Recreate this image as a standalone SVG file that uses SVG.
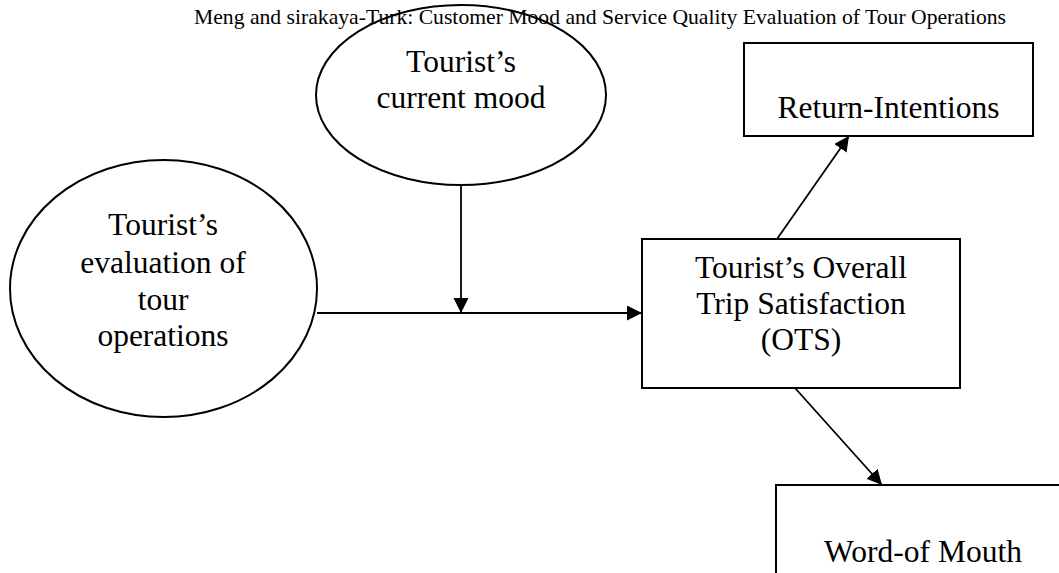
<svg xmlns="http://www.w3.org/2000/svg" width="1059" height="573" viewBox="0 0 1059 573">
  <style>
    .shape { fill: #ffffff; stroke: #000000; stroke-width: 2; }
    .lbl { font-family: "Liberation Serif", "Times New Roman", serif; font-size: 31.5px; fill: #000000; text-anchor: middle; }
    .title { font-family: "Liberation Serif", "Times New Roman", serif; font-size: 21px; fill: #000000; text-anchor: middle; }
    .conn { stroke: #000000; stroke-width: 1.8; fill: none; }
  </style>
  <defs>
    <marker id="arrow" markerUnits="userSpaceOnUse" markerWidth="16" markerHeight="16" refX="15" refY="7.5" orient="auto">
      <path d="M0,0 L15,7.5 L0,15 Z" fill="#000000"/>
    </marker>
  </defs>
  <rect width="1059" height="573" fill="#ffffff"/>

  <g id="node-mood">
    <ellipse class="shape" cx="461" cy="95" rx="145" ry="90"/>
    <text class="lbl" x="461" y="72">Tourist’s</text>
    <text class="lbl" x="461" y="108">current mood</text>
  </g>

  <g id="title">
    <text class="title" x="600" y="24" textLength="812" lengthAdjust="spacingAndGlyphs">Meng and sirakaya-Turk: Customer Mood and Service Quality Evaluation of Tour Operations</text>
  </g>

  <g id="node-evaluation">
    <ellipse class="shape" cx="163.5" cy="288.5" rx="153.5" ry="128.5"/>
    <text class="lbl" x="163" y="235">Tourist’s</text>
    <text class="lbl" x="163" y="273">evaluation of</text>
    <text class="lbl" x="163" y="310">tour</text>
    <text class="lbl" x="163" y="346">operations</text>
  </g>

  <g id="node-ots">
    <rect class="shape" x="642" y="239" width="318" height="149"/>
    <text class="lbl" x="801" y="278">Tourist’s Overall</text>
    <text class="lbl" x="801" y="314">Trip Satisfaction</text>
    <text class="lbl" x="801" y="350">(OTS)</text>
  </g>

  <g id="node-return">
    <rect class="shape" x="744" y="43" width="289" height="93"/>
    <text class="lbl" x="888.5" y="118">Return-Intentions</text>
  </g>

  <g id="node-wom">
    <rect class="shape" x="776" y="485" width="300" height="120"/>
    <text class="lbl" x="923" y="562">Word-of Mouth</text>
  </g>

  <g id="connectors">
    <line class="conn" x1="317" y1="313" x2="642" y2="313" marker-end="url(#arrow)"/>
    <line class="conn" x1="461" y1="185" x2="461" y2="313" marker-end="url(#arrow)"/>
    <line class="conn" x1="777" y1="239" x2="849" y2="136" marker-end="url(#arrow)"/>
    <line class="conn" x1="795" y1="388" x2="882" y2="485" marker-end="url(#arrow)"/>
  </g>
</svg>
